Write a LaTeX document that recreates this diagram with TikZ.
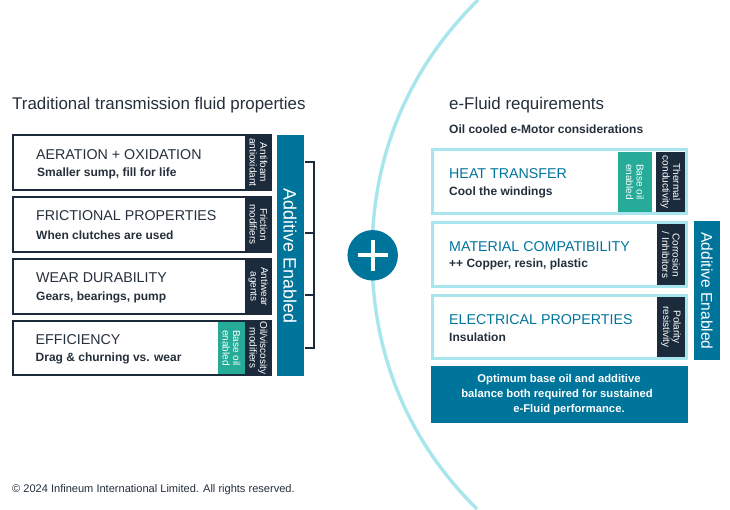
\documentclass[tikz,border=0pt]{standalone}
\usepackage{fontspec}
\setmainfont{Liberation Sans}
\definecolor{navy}{HTML}{1C2B3B}
\definecolor{petrol}{HTML}{00759C}
\definecolor{teal}{HTML}{25AB98}
\definecolor{pale}{HTML}{A8E6EE}
\definecolor{ink}{HTML}{25303C}
\tikzset{
  x=1pt,y=-1pt,
  leftbox/.style={draw=navy,line width=2.4pt,fill=white},
  rightbox/.style={draw=pale,line width=3pt,fill=white},
  panel/.style={fill=navy},
  greenpanel/.style={fill=teal},
  bluepanel/.style={fill=petrol},
  head/.style={anchor=west,inner sep=0pt,font=\fontsize{14.25}{16}\selectfont,text=ink},
  bluehead/.style={head,text=petrol},
  sub/.style={anchor=west,inner sep=0pt,font=\bfseries\fontsize{12}{14}\selectfont,text=ink},
  vtext/.style={rotate=-90,inner sep=0pt,align=center,text=white,font=\fontsize{10}{10.5}\selectfont},
  big/.style={rotate=-90,inner sep=0pt,text=white,font=\fontsize{17.9}{20}\selectfont},
  smallbig/.style={big,font=\fontsize{15.6}{18}\selectfont},
  title/.style={anchor=west,inner sep=0pt,font=\fontsize{16.9}{19}\selectfont,text=ink},
  bracket/.style={draw=navy,line width=1.8pt},
  bannertext/.style={inner sep=0pt,text=white,font=\bfseries\fontsize{11.25}{15.2}\selectfont}
}
\begin{document}
\begin{tikzpicture}
\useasboundingbox (0,0) rectangle (730,509);
\fill[white] (0,0) rectangle (730,509);
% arc
\draw[pale,line width=3.4pt] (478,0) .. controls (405,72) and (372,160) .. (372,255) .. controls (372,350) and (405,438) .. (477,509);
% titles
\node[title] (t1) at (12,105) {Traditional transmission fluid properties};
\node[title] (t2) at (449,105) {e-Fluid requirements};
\node[sub] (t3) at (449,129.5) {Oil cooled e-Motor considerations};
% left boxes
\draw[leftbox] (13.2,135.2) rectangle (270.8,189.8);
\fill[panel] (245,135) rectangle (271,190);
\node[head] at (36,154.5) {AERATION + OXIDATION};
\node[sub] at (37,173) {Smaller sump, fill for life};
\node[vtext] at (258.5,162.5) {Antifoam\\antioxidant};
\draw[leftbox] (13.2,197.2) rectangle (270.8,251.8);
\fill[panel] (245,197) rectangle (271,252);
\node[head] at (36,216) {FRICTIONAL PROPERTIES};
\node[sub] at (36,235) {When clutches are used};
\node[vtext] at (258.5,224.5) {Friction\\modifiers};
\draw[leftbox] (13.2,259.2) rectangle (270.8,313.8);
\fill[panel] (245,259) rectangle (271,314);
\node[head] at (36,277.7) {WEAR DURABILITY};
\node[sub] at (36,297) {Gears, bearings, pump};
\node[vtext] at (258.5,286.5) {Antiwear\\agents};
\draw[leftbox] (13.2,321.2) rectangle (270.8,375);
\fill[greenpanel] (218,322) rectangle (245,374);
\fill[panel] (245,321) rectangle (271,375);
\node[head] at (35.5,339.7) {EFFICIENCY};
\node[sub] at (35.5,358) {Drag \& churning vs. wear};
\node[vtext] at (231.5,348) {Base oil\\enabled};
\node[vtext] at (258.5,348) {Oil/viscosity\\modifiers};
% additive left
\fill[bluepanel] (277,135) rectangle (303.5,376);
\node[big] at (290,256) {Additive Enabled};
% bracket
\coordinate (b1) at (305,162);
\coordinate (b2) at (314,162);
\coordinate (b3) at (314,348);
\coordinate (b4) at (305,348);
\coordinate (b5) at (305,233);
\coordinate (b6) at (314,233);
\coordinate (b7) at (305,295);
\coordinate (b8) at (314,295);
\draw[bracket] (b1) -- (b2) -- (b3) -- (b4);
\draw[bracket] (b5) -- (b6);
\draw[bracket] (b7) -- (b8);
% plus
\node[circle,fill=petrol,minimum size=50.5pt,inner sep=0pt] (plus) at (372.7,255.3) {};
\fill[white] (358,253.3) rectangle (388.3,257.3);
\fill[white] (370.7,240) rectangle (374.7,270.5);
% right boxes
\draw[rightbox] (432.5,149.5) rectangle (686.5,213.7);
\fill[greenpanel] (618,152) rectangle (652,212);
\fill[panel] (656,152) rectangle (685,212);
\node[bluehead] at (449,174) {HEAT TRANSFER};
\node[sub] at (449,192) {Cool the windings};
\node[vtext] at (635,182) {Base oil\\enabled};
\node[vtext] at (670.5,182) {Thermal\\conductivity};
\draw[rightbox] (432.5,222.5) rectangle (686.5,286.5);
\fill[panel] (657,224) rectangle (685,285);
\node[bluehead] at (449,246.5) {MATERIAL COMPATIBILITY};
\node[sub] at (449,264) {++ Copper, resin, plastic};
\node[vtext] at (671,255) {Corrosion\\/ Inhibitors};
\draw[rightbox] (432.5,295.5) rectangle (686.5,358.7);
\fill[panel] (657,297) rectangle (685,357);
\node[bluehead] at (449,319.5) {ELECTRICAL PROPERTIES};
\node[sub] at (449,337) {Insulation};
\node[vtext] at (671,327) {Polarity\\resistivity};
% additive right
\fill[bluepanel] (694,221) rectangle (720,360);
\node[smallbig] at (707,291) {Additive Enabled};
% banner
\fill[bluepanel] (431,366) rectangle (688,423);
\node[bannertext] (bt1) at (559,379.5) {Optimum base oil and additive};
\node[bannertext] (bt2) at (557,394.5) {balance both required for sustained};
\node[bannertext] (bt3) at (569,410) {e-Fluid performance.};
% footer
\node[anchor=west,inner sep=0pt,font=\fontsize{11.05}{13}\selectfont,text=ink] (foot) at (12,490) {© 2024 Infineum International Limited. All rights reserved.};
\end{tikzpicture}
\end{document}
